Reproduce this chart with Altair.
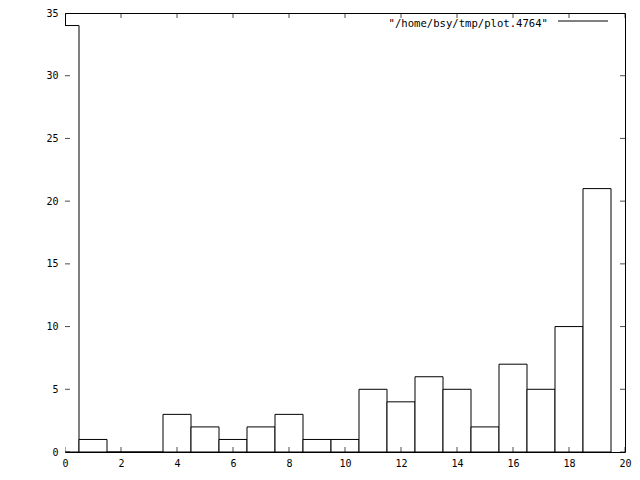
import altair as alt
import pandas as pd

bins = list(range(20))
counts = [34, 1, 0, 0, 3, 2, 1, 2, 3, 1, 1, 5, 4, 6, 5, 2, 7, 5, 10, 21]
x_ticks = [0, 2, 4, 6, 8, 10, 12, 14, 16, 18, 20]
y_ticks = [0, 5, 10, 15, 20, 25, 30, 35]
legend_label = '"/home/bsy/tmp/plot.4764"'

FONT = "DejaVu Sans Mono"
FS = 10
W, H = 560, 439

df = pd.DataFrame({"x": bins, "count": counts})
df["x0"] = df["x"] - 0.5
df["x1"] = df["x"] + 0.5
df["base"] = 0

xs = alt.Scale(domain=[0, 20], nice=False, zero=False)
ys = alt.Scale(domain=[0, 35], nice=False)

bars = alt.Chart(df).mark_rect(fill="white", stroke="black", strokeWidth=1, clip=True).encode(
    x=alt.X("x0:Q", scale=xs, title=None,
            axis=alt.Axis(values=x_ticks, ticks=False, domain=False, grid=False,
                          labelFont=FONT, labelFontSize=FS, labelColor="black",
                          labelPadding=6, labelFlush=False, labelOverlap=False, format="d")),
    x2="x1:Q",
    y=alt.Y("count:Q", scale=ys, title=None,
            axis=alt.Axis(values=y_ticks, ticks=False, domain=False, grid=False,
                          labelFont=FONT, labelFontSize=FS, labelColor="black",
                          labelPadding=7, labelFlush=False, labelOverlap=False, format="d")),
    y2="base:Q",
)

xt = pd.DataFrame({"v": x_ticks})
yt = pd.DataFrame({"v": y_ticks})

TS = 10
xticks_bottom = alt.Chart(xt).mark_tick(orient="vertical", clip=True, size=TS, thickness=1, color="black").encode(
    x=alt.X("v:Q", scale=xs), y=alt.datum(0, scale=ys))
xticks_top = alt.Chart(xt).mark_tick(orient="vertical", clip=True, size=TS, thickness=1, color="black").encode(
    x=alt.X("v:Q", scale=xs), y=alt.datum(35, scale=ys))
yticks_left = alt.Chart(yt).mark_tick(orient="horizontal", clip=True, size=TS, thickness=1, color="black").encode(
    y=alt.Y("v:Q", scale=ys), x=alt.datum(0, scale=xs))
yticks_right = alt.Chart(yt).mark_tick(orient="horizontal", clip=True, size=TS, thickness=1, color="black").encode(
    y=alt.Y("v:Q", scale=ys), x=alt.datum(20, scale=xs))

leg = pd.DataFrame({"t": [legend_label]})
leg_text = alt.Chart(leg).mark_text(align="right", baseline="middle", font=FONT, fontSize=10.6, color="black").encode(
    text="t:N", x=alt.value(483), y=alt.value(11))
leg_line = alt.Chart(leg).mark_rule(color="black", strokeWidth=1).encode(
    x=alt.value(493), x2=alt.value(543), y=alt.value(8))

chart = alt.layer(bars, xticks_bottom, xticks_top, yticks_left, yticks_right, leg_text, leg_line).properties(
    width=W, height=H,
    autosize=alt.AutoSizeParams(type="none"),
    padding={"left": 57, "top": 5, "right": 7, "bottom": 20},
    background="white",
).configure_view(stroke="black", strokeWidth=1)

chart.save("out.html", embed_options={"renderer": "svg", "actions": False})
